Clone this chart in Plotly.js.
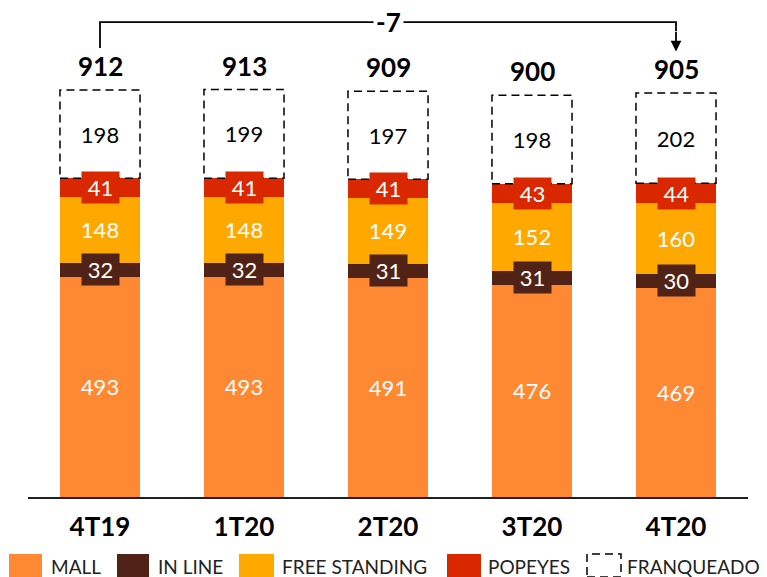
<!DOCTYPE html>
<html>
<head>
<meta charset="utf-8">
<script src="https://cdn.plot.ly/plotly-3.0.1.min.js"></script>
<style>html,body{margin:0;padding:0;background:#fff;}#chart{width:767px;height:577px;}</style>
</head>
<body>
<div id="chart"></div>
<script>
// ---- data ----
const categories = ['4T19', '1T20', '2T20', '3T20', '4T20'];
const seriesNames = ['MALL', 'IN LINE', 'FREE STANDING', 'POPEYES', 'FRANQUEADO'];
const mall = [493, 493, 491, 476, 469];
const inLine = [32, 32, 31, 31, 30];
const freeStanding = [148, 148, 149, 152, 160];
const popeyes = [41, 41, 41, 43, 44];
const franqueado = [198, 199, 197, 198, 202];
const totals = [912, 913, 909, 900, 905];

// ---- styles ----
const colors = ['#FF8833', '#512316', '#FFA800', '#D92800', '#FFFFFF'];
const FONT = 'Lato, "Open Sans", sans-serif';
const barHalf = 0.278;

const series = [mall, inLine, freeStanding, popeyes, franqueado];

const traces = series.map((vals, k) => {
  const t = {
    type: 'bar', x: categories, y: vals, name: seriesNames[k],
    marker: {color: colors[k], line: {width: 0}},
    hoverinfo: 'skip', showlegend: false, cliponaxis: false
  };
  if (k === 0 || k === 2 || k === 4) {
    t.text = vals.map(String);
    t.textposition = 'inside';
    t.insidetextanchor = 'middle';
    t.textangle = 0;
    t.constraintext = 'none';
    t.textfont = {family: FONT, size: 22, color: k === 4 ? '#000000' : '#FFFFFF'};
  } else {
    t.textposition = 'none';
  }
  return t;
});

const shapes = [];
const annotations = [];

categories.forEach((c, i) => {
  const base1 = mall[i];
  const base3 = mall[i] + inLine[i] + freeStanding[i];
  const base4 = base3 + popeyes[i];
  annotations.push({
    x: i, y: base1 + inLine[i] / 2, xref: 'x', yref: 'y', text: String(inLine[i]),
    showarrow: false, bgcolor: colors[1], width: 35, height: 29,
    font: {family: FONT, size: 22, color: '#FFFFFF'}
  });
  annotations.push({
    x: i, y: base3 + popeyes[i] / 2, xref: 'x', yref: 'y', text: String(popeyes[i]),
    showarrow: false, bgcolor: colors[3], width: 35, height: 29,
    font: {family: FONT, size: 22, color: '#FFFFFF'}
  });
  shapes.push({
    type: 'rect', xref: 'x', yref: 'y', x0: i - barHalf, x1: i + barHalf,
    y0: base4, y1: base4 + franqueado[i], layer: 'above',
    line: {color: '#000000', width: 1.5, dash: '8px,5px'}, fillcolor: 'rgba(0,0,0,0)'
  });
  annotations.push({
    x: i, y: totals[i], xref: 'x', yref: 'y', text: '<b>' + totals[i] + '</b>',
    showarrow: false, yanchor: 'bottom', yshift: 6,
    font: {family: FONT, size: 26, color: '#000000'}
  });
});

// bracket showing change
const last = categories.length - 1;
const yTop = 1064;
const yLeftBottom = totals[0] + 94;
const yTip = totals[last] + 93;
shapes.push({
  type: 'path', xref: 'x', yref: 'y', layer: 'above',
  path: `M 0 ${yLeftBottom} L 0 ${yTop} L ${last} ${yTop} L ${last} ${yTop - 20}`,
  line: {color: '#000000', width: 1.8}
});
annotations.push({
  x: last, y: yTip, xref: 'x', yref: 'y', axref: 'x', ayref: 'y', ax: last, ay: yTop - 18,
  showarrow: true, arrowhead: 2, arrowsize: 1.2, arrowwidth: 1.8, arrowcolor: '#000000', text: ''
});
annotations.push({
  x: 2, y: yTop, xref: 'x', yref: 'y', text: '<b>' + (totals[last] - totals[0]) + '</b>',
  showarrow: false, bgcolor: '#FFFFFF', borderpad: 2,
  font: {family: FONT, size: 26, color: '#000000'}
});

// custom legend (paper coords)
const legSwatchX = [[9, 42], [117, 149], [239, 274], [447, 481], [587, 621]];
const legTextX = [50, 157, 281, 487, 626];
const px2x = p => (p - 28) / 720;
const py2y = p => (497 - p) / 497;
seriesNames.forEach((n, k) => {
  const s = {
    type: 'rect', xref: 'paper', yref: 'paper',
    x0: px2x(legSwatchX[k][0]), x1: px2x(legSwatchX[k][1]),
    y0: py2y(577), y1: py2y(554),
    fillcolor: colors[k], line: {width: 0}
  };
  if (k === 4) s.line = {color: '#000000', width: 1.5, dash: '8px,5px'};
  shapes.push(s);
  annotations.push({
    x: px2x(legTextX[k]), y: py2y(566), xref: 'paper', yref: 'paper',
    xanchor: 'left', yanchor: 'middle', text: n, showarrow: false, borderpad: 0,
    font: {family: FONT, size: 19, color: '#222222'}
  });
});

const layout = {
  width: 767, height: 577,
  margin: {l: 28, r: 19, t: 0, b: 80},
  paper_bgcolor: '#FFFFFF', plot_bgcolor: '#FFFFFF',
  barmode: 'stack', bargap: 0.444,
  showlegend: false,
  xaxis: {
    type: 'category', showline: true, linecolor: '#222222', linewidth: 1.5,
    ticks: '', showgrid: false, zeroline: false,
    tickfont: {family: FONT, size: 26, color: '#000000', weight: 'bold'},
    ticklabelstandoff: 6
  },
  yaxis: {range: [0, 1113.6], visible: false, showgrid: false, zeroline: false, fixedrange: true},
  shapes: shapes,
  annotations: annotations,
  font: {family: FONT}
};

Plotly.newPlot('chart', traces, layout, {displayModeBar: false, staticPlot: true});
</script>
</body>
</html>
